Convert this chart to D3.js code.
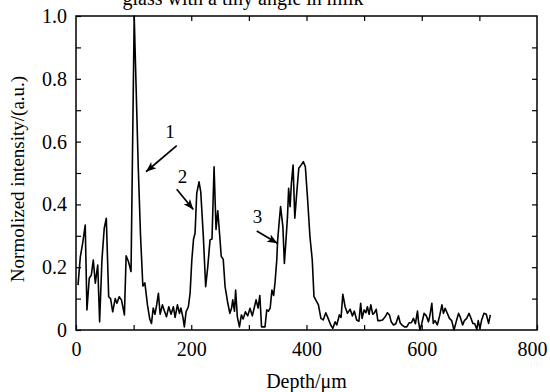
<!DOCTYPE html>
<html>
<head>
<meta charset="utf-8">
<script src="https://cdn.jsdelivr.net/npm/d3@7"></script>
<style>
  body { margin: 0; background: #fff; }
  svg text { font-family: "Liberation Serif", "Times New Roman", serif !important; fill: #000; }
</style>
</head>
<body>
<svg id="chart" width="550" height="392"></svg>
<script>
// depth (µm) and normalized intensity
const depth = [
  3.5, 7.5, 11.6, 16, 19, 23, 26.6, 30, 33.5, 37.7, 41, 45, 49, 52.6, 56.7, 60, 63.7, 68, 71, 75,
  79, 84, 87, 91, 95.5, 101, 108, 112, 116, 119.5, 124, 128, 131, 134, 137, 140, 143, 146, 150, 153.6,
  157, 161, 165, 169, 172, 176, 179.6, 182, 185.6, 188, 191, 195, 198, 201, 204, 206.6, 209.5, 213.5, 216.5, 221,
  225, 228.6, 232.6, 236, 239.6, 243, 246, 249, 252, 255.5, 258.7, 263, 267, 270, 272, 275, 277, 280, 283.6, 287,
  290, 294, 298, 302, 306, 312.5, 316, 319, 322, 328, 331, 334, 337, 340, 343, 345.5, 348.4, 350, 352.4, 355,
  359, 361.6, 364, 367, 369, 371.5, 373.8, 376.7, 379.7, 383, 386.6, 390.6, 394.6, 398, 401.6, 406, 410, 413, 420.7, 425,
  429, 433.5, 437.5, 442, 445.6, 449.6, 452.5, 457, 460, 463, 467, 471, 475.7, 479.7, 483, 487, 491, 494, 496.5, 500,
  503, 505.7, 508.6, 511.6, 515, 518, 521, 523.8, 528, 532, 536.5, 540.5, 544, 547, 551, 555, 559.6, 562.5, 565.5, 570,
  574, 578, 582, 585.6, 589, 592.6, 594.4, 597, 600, 604, 608, 611.6, 614, 617.5, 620, 623, 627, 631, 635, 637.7,
  640.6, 644, 648, 652, 656, 659.7, 663.8, 667, 671, 674, 678, 682, 685, 688.7, 692, 695.6, 698, 701, 704, 708,
  712, 716, 719
];
const intensity = [
  0.143, 0.233, 0.277, 0.334, 0.064, 0.165, 0.175, 0.223, 0.149, 0.207, 0.026, 0.223, 0.324, 0.356, 0.106, 0.10, 0.058, 0.10, 0.085, 0.106,
  0.095, 0.048, 0.236, 0.218, 0.186, 1.0, 0.52, 0.30, 0.14, 0.15, 0.08, 0.035, 0.021, 0.07, 0.05, 0.08, 0.117, 0.05, 0.08, 0.06,
  0.042, 0.074, 0.05, 0.074, 0.04, 0.08, 0.053, 0.07, 0.04, 0.01, 0.058, 0.074, 0.117, 0.223, 0.29, 0.308, 0.435, 0.472, 0.44, 0.297,
  0.138, 0.20, 0.287, 0.29, 0.52, 0.32, 0.38, 0.31, 0.235, 0.225, 0.138, 0.09, 0.053, 0.07, 0.096, 0.06, 0.127, 0.042, 0.01, 0.048,
  0.035, 0.058, 0.045, 0.069, 0.045, 0.096, 0.07, 0.11, 0.01, 0.01, 0.064, 0.06, 0.07, 0.127, 0.11, 0.154, 0.223, 0.287, 0.34, 0.393,
  0.329, 0.212, 0.276, 0.361, 0.451, 0.393, 0.467, 0.525, 0.356, 0.435, 0.515, 0.525, 0.536, 0.52, 0.425, 0.297, 0.223, 0.106, 0.08, 0.037,
  0.032, 0.055, 0.037, 0.016, 0.005, 0.026, 0.016, 0.048, 0.04, 0.114, 0.074, 0.053, 0.066, 0.045, 0.06, 0.032, 0.028, 0.085, 0.037, 0.064,
  0.055, 0.074, 0.05, 0.08, 0.05, 0.055, 0.066, 0.03, 0.03, 0.032, 0.042, 0.055, 0.048, 0.026, 0.016, 0.02, 0.045, 0.023, 0.016, 0.01,
  0.01, 0.023, 0.023, 0.037, 0.02, 0.06, 0.026, 0.0, 0.02, 0.053, 0.045, 0.026, 0.045, 0.085, 0.021, 0.03, 0.016, 0.045, 0.08, 0.053,
  0.069, 0.055, 0.037, 0.03, 0.0, 0.026, 0.053, 0.04, 0.016, 0.03, 0.037, 0.053, 0.04, 0.021, 0.02, 0.002, 0.03, 0.005, 0.032, 0.053,
  0.05, 0.021, 0.048
];

// numbered arrows: label, tail and head in data units
const arrowLabels = ['1', '2', '3'];
const arrowTails = [[174.8, 0.587], [174.8, 0.448], [313.7, 0.315]];
const arrowHeads = [[121.5, 0.504], [203.6, 0.384], [349.5, 0.276]];
const arrowLabelPos = [[163, 0.63], [185, 0.488], [314.8, 0.361]];

const xTicks = [0, 200, 400, 600, 800];
const yTicks = [0, 0.2, 0.4, 0.6, 0.8, 1.0];
const titleText = 'glass with a tiny angle in milk';
const xLabel = 'Depth/\u03bcm';
const yLabel = 'Normolized intensity/(a.u.)';

const margin = { top: 16, right: 13, bottom: 62, left: 76 };
const svg = d3.select('#chart');
const width = 550 - margin.left - margin.right;
const height = 392 - margin.top - margin.bottom;

const x = d3.scaleLinear().domain([0, 800]).range([0, width]);
const y = d3.scaleLinear().domain([0, 1]).range([height, 0]);

const g = svg.append('g').attr('transform', `translate(${margin.left},${margin.top})`);

// title (clipped at the top like the original)
svg.append('text')
  .attr('x', 243).attr('y', 5)
  .attr('text-anchor', 'middle')
  .attr('font-size', 20)
  .text(titleText);

// axes with inward ticks on all four sides
const tickLen = 5;
const axisStyle = sel => {
  sel.select('.domain').remove();
  sel.selectAll('line').attr('stroke', '#000').attr('stroke-width', 1.2);
  sel.selectAll('text').attr('font-size', 20);
};

const xAxis = g.append('g')
  .attr('transform', `translate(0,${height})`)
  .call(d3.axisBottom(x).tickValues(d3.range(0, 801, 100))
    .tickFormat(d => xTicks.includes(d) ? d : '')
    .tickSizeInner(-tickLen).tickSizeOuter(0).tickPadding(12))
  .call(axisStyle);
// last label sits a little inside the window, as in the original
xAxis.selectAll('text').filter(d => d === 800).attr('dx', -5);

g.append('g')
  .call(d3.axisTop(x).tickValues(d3.range(100, 800, 100)).tickFormat('')
    .tickSizeInner(-tickLen).tickSizeOuter(0))
  .call(axisStyle);

g.append('g')
  .call(d3.axisLeft(y).tickValues(d3.range(0, 11).map(i => i / 10))
    .tickFormat(d => yTicks.some(t => Math.abs(t - d) < 1e-9) ? (d === 0 ? '0' : d3.format('.1f')(d)) : '')
    .tickSizeInner(-tickLen).tickSizeOuter(0).tickPadding(9))
  .call(axisStyle);

g.append('g')
  .attr('transform', `translate(${width},0)`)
  .call(d3.axisRight(y).tickValues(d3.range(1, 10).map(i => i / 10)).tickFormat('')
    .tickSizeInner(-tickLen).tickSizeOuter(0))
  .call(axisStyle);

// frame
g.append('rect')
  .attr('width', width).attr('height', height)
  .attr('fill', 'none').attr('stroke', '#000').attr('stroke-width', 1.5);

// data line
const line = d3.line()
  .x((d, i) => x(depth[i]))
  .y(d => y(d));

g.append('path')
  .datum(intensity)
  .attr('fill', 'none')
  .attr('stroke', '#000')
  .attr('stroke-width', 1.6)
  .attr('stroke-linejoin', 'round')
  .attr('d', line);

// arrows
svg.append('defs').append('marker')
  .attr('id', 'head')
  .attr('viewBox', '0 0 10 10')
  .attr('refX', 10).attr('refY', 5)
  .attr('markerWidth', 6).attr('markerHeight', 6)
  .attr('markerUnits', 'strokeWidth')
  .attr('orient', 'auto')
  .append('path')
  .attr('d', 'M0,1 L10,5 L0,9 L2.5,5 Z')
  .attr('fill', '#000');

arrowLabels.forEach((lab, i) => {
  g.append('line')
    .attr('x1', x(arrowTails[i][0])).attr('y1', y(arrowTails[i][1]))
    .attr('x2', x(arrowHeads[i][0])).attr('y2', y(arrowHeads[i][1]))
    .attr('stroke', '#000').attr('stroke-width', 1.7)
    .attr('marker-end', 'url(#head)');
  g.append('text')
    .attr('x', x(arrowLabelPos[i][0])).attr('y', y(arrowLabelPos[i][1]) + 6)
    .attr('text-anchor', 'middle')
    .attr('font-size', 19)
    .text(lab);
});

// axis labels
svg.append('text')
  .attr('x', margin.left + width / 2).attr('y', 388)
  .attr('text-anchor', 'middle')
  .attr('font-size', 20)
  .text(xLabel);

svg.append('text')
  .attr('transform', `translate(24,${margin.top + height / 2 + 6}) rotate(-90)`)
  .attr('text-anchor', 'middle')
  .attr('font-size', 19)
  .text(yLabel);
</script>
</body>
</html>
